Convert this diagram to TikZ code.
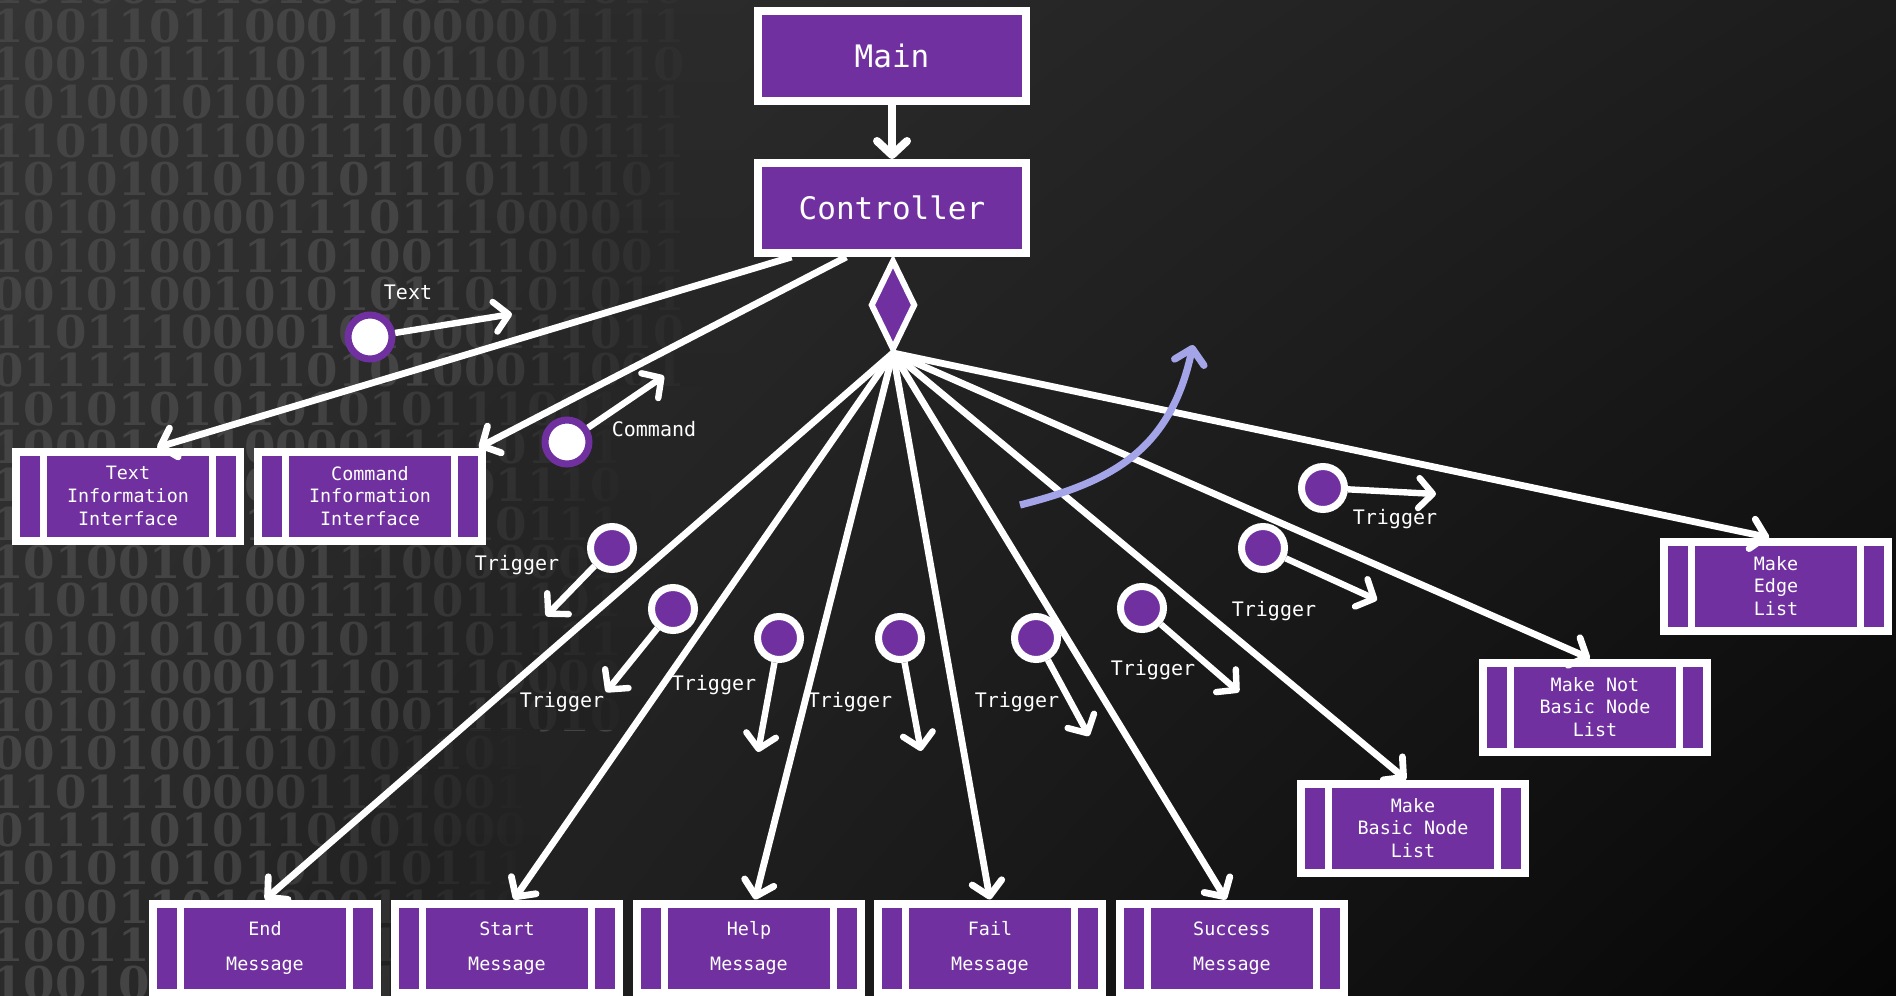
\documentclass[tikz,border=0pt]{standalone}
\usepackage{fontspec}
\setmonofont{DejaVu Sans Mono}
\newfontfamily\bitsfont{DejaVu Serif Bold}
\usetikzlibrary{arrows.meta,shapes.geometric,fadings,shadings}
\definecolor{boxpurple}{HTML}{7030A0}
\definecolor{flowblue}{RGB}{164,164,232}
\definecolor{bgtl}{RGB}{52,52,52}
\definecolor{bgtr}{RGB}{28,28,28}
\definecolor{bgbl}{RGB}{42,42,42}
\definecolor{bgbr}{RGB}{6,6,6}
\definecolor{bitgray}{RGB}{68,68,68}
\tikzfading[name=bitsfade, left color=transparent!100, right color=transparent!0]

\begin{document}
\begin{tikzpicture}[
    x=0.5pt, y=-0.5pt,
    >={Straight Barb[length=7pt,width=15pt,round]},
    mainbox/.style={
        draw=white, line width=4pt, fill=boxpurple,
        minimum width=134pt, minimum height=45pt, inner sep=0pt,
        text=white, font=\ttfamily\fontsize{15.5}{18}\selectfont
    },
    box/.style={
        draw=white, line width=4pt, fill=boxpurple,
        minimum width=112pt, minimum height=44.5pt, inner sep=0pt,
        text=white, align=center,
        font=\ttfamily\fontsize{9.2}{11.3}\selectfont,
        path picture={
            \draw[white, line width=3.5pt]
                ([xshift=-42.25pt]path picture bounding box.north) --
                ([xshift=-42.25pt]path picture bounding box.south)
                ([xshift=42.25pt]path picture bounding box.north) --
                ([xshift=42.25pt]path picture bounding box.south);
        }
    },
    msgbox/.style={box, font=\ttfamily\fontsize{9.2}{17.5}\selectfont},
    hub/.style={
        diamond, draw=white, line width=3pt, fill=boxpurple,
        minimum width=22.5pt, minimum height=45pt, inner sep=0pt
    },
    conn/.style={->, white, line width=3.4pt},
    trigev/.style={
        circle, draw=white, fill=boxpurple, line width=3.5pt,
        minimum size=21.5pt, inner sep=0pt
    },
    dataev/.style={
        circle, draw=boxpurple, fill=white, line width=3.5pt,
        minimum size=22pt, inner sep=0pt
    },
    evarrow/.style={->, white, line width=3.2pt},
    lbl/.style={text=white, inner sep=0pt, font=\ttfamily\fontsize{10}{12}\selectfont},
    bitsveil/.style={path fading=bitsfade}
]

% Background
\useasboundingbox (0,0) rectangle (1896,996);
\shade[upper left=bgtl, upper right=bgtr, lower left=bgbl, lower right=bgbr]
    (0,0) rectangle (1896,996);

% Binary digits
\node[
    anchor=north west,
    inner sep=0pt,
    align=left,
    text=bitgray,
    font=\bitsfont\fontsize{22.6}{19.15}\selectfont
] (bits) at (-8,-30) {%
1010010101001010111010\\
1001101100011000001111\\
1001011110111011011110\\
1010010100111000000111\\
1101001100111101110111\\
1010101010101110111101\\
1010100001110111000011\\
1010100111010011101001\\
0010100101010110101011\\
1101110000101000111010\\
0111111011010100011001\\
10101010101010111001\\
10001101000011110111\\
10011011000111001110\\
10010111101110110111\\
10100101001110000001\\
11010011001111011101\\
10101010101011101111\\
10101000011101110000\\
10101001110100111010\\
00101001010101101\\
11011100001111001\\
01111010110101000\\
10101010101010111\\
10001101000011110\\
10011011000110000\\
10010111101110110};

% Fade the digits out towards the diagram
\shade[bitsveil,
    top color={rgb,255:red,43;green,43;blue,43},
    bottom color={rgb,255:red,37;green,37;blue,37}
] (400,-20) rectangle (735,386);
\shade[bitsveil,
    top color={rgb,255:red,38;green,38;blue,38},
    bottom color={rgb,255:red,33;green,33;blue,33}
] (300,386) rectangle (650,730);
\shade[bitsveil,
    top color={rgb,255:red,35;green,35;blue,35},
    bottom color={rgb,255:red,31;green,31;blue,31}
] (200,730) rectangle (540,1010);

% Main and controller
\node[mainbox] (main) at (892,56) {Main};
\node[mainbox] (ctrl) at (892,208) {Controller};
\node[hub] (dia) at (893,305) {};

% Interfaces
\node[box] (tii) at (128,496) {Text\\Information\\Interface};
\node[box] (cii) at (370,496) {Command\\Information\\Interface};

% Messages
\node[msgbox] (endm) at (265,948) {End\\Message};
\node[msgbox] (startm) at (507,948) {Start\\Message};
\node[msgbox] (helpm) at (749,948) {Help\\Message};
\node[msgbox] (failm) at (990,948) {Fail\\Message};
\node[msgbox] (succm) at (1232,948) {Success\\Message};

% Lists
\node[box] (mbasic) at (1413,828) {Make\\Basic Node\\List};
\node[box] (mnotbasic) at (1595,707) {Make Not\\Basic Node\\List};
\node[box] (medge) at (1776,586) {Make\\Edge\\List};

% Connectors
\draw[conn, line width=4pt] (main) -- (ctrl);
\draw[conn] (ctrl.206) -- (tii.59);
\draw[conn] (ctrl.227) -- (cii.24);
\draw[conn] (dia.south) -- (endm.north);
\draw[conn] (dia.south) -- (startm.82);
\draw[conn] (dia.south) -- (helpm.83);
\draw[conn] (dia.south) -- (failm.north);
\draw[conn] (dia.south) -- (succm.97);
\draw[conn] (dia.south) -- (mbasic.98);
\draw[conn] (dia.south) -- (mnotbasic.96);
\draw[conn] (dia.south) -- (medge.98);

% Data events
\node[dataev] (txtev) at (370,337) {};
\coordinate (txttip) at (512,314);
\draw[evarrow] (txtev) -- (txttip);
\node[lbl] (txtlbl) at (408,292) {Text};

\node[dataev] (cmdev) at (567,442) {};
\coordinate (cmdtip) at (664,376);
\draw[evarrow] (cmdev) -- (cmdtip);
\node[lbl] (cmdlbl) at (654,429) {Command};

% Triggers
\node[trigev] (trig1) at (612,548) {};
\coordinate (tip1) at (546,616);
\draw[evarrow] (trig1) -- (tip1);
\node[lbl] (lbl1) at (517,565) {Trigger};

\node[trigev] (trig2) at (673,609) {};
\coordinate (tip2) at (606,692);
\draw[evarrow] (trig2) -- (tip2);
\node[lbl] (lbl2) at (562,702) {Trigger};

\node[trigev] (trig3) at (779,638) {};
\coordinate (tip3) at (758,752);
\draw[evarrow] (trig3) -- (tip3);
\node[lbl] (lbl3) at (714,685) {Trigger};

\node[trigev] (trig4) at (900,638) {};
\coordinate (tip4) at (921,751);
\draw[evarrow] (trig4) -- (tip4);
\node[lbl] (lbl4) at (850,702) {Trigger};

\node[trigev] (trig5) at (1036,638) {};
\coordinate (tip5) at (1089,736);
\draw[evarrow] (trig5) -- (tip5);
\node[lbl] (lbl5) at (1017,702) {Trigger};

\node[trigev] (trig6) at (1142,608) {};
\coordinate (tip6) at (1239,692);
\draw[evarrow] (trig6) -- (tip6);
\node[lbl] (lbl6) at (1153,670) {Trigger};

\node[trigev] (trig7) at (1263,548) {};
\coordinate (tip7) at (1377,600);
\draw[evarrow] (trig7) -- (tip7);
\node[lbl] (lbl7) at (1274,611) {Trigger};

\node[trigev] (trig8) at (1323,488) {};
\coordinate (tip8) at (1436,494);
\draw[evarrow] (trig8) -- (tip8);
\node[lbl] (lbl8) at (1395,519) {Trigger};

% Flow direction
\coordinate (flowstart) at (1020,505);
\coordinate (flowend) at (1193,345);
\draw[
    ->,
    flowblue,
    line width=3.6pt
] (flowstart)
  .. controls (1110,482) and (1170,452) ..
  (flowend);

\end{tikzpicture}
\end{document}
